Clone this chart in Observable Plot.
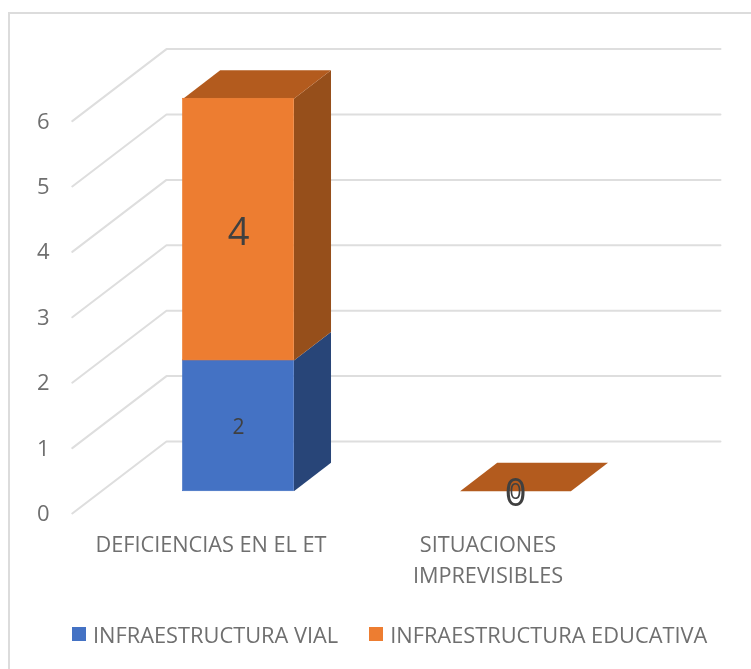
<!DOCTYPE html>
<html lang="es">
<head>
<meta charset="utf-8">
<script src="https://cdn.jsdelivr.net/npm/d3@7"></script>
<script src="https://cdn.jsdelivr.net/npm/@observablehq/plot@0.6"></script>
<style>
  html, body { margin: 0; padding: 0; background: #fff; overflow: hidden; }
  #frame { position: absolute; left: 8px; top: 12px; width: 743px; height: 657px; box-sizing: border-box;
           border-top: 2px solid #dcdcdc; border-left: 2px solid #dcdcdc; }
  #chart { position: absolute; left: 0; top: 0; filter: blur(0.4px); }
  #chart svg { display: block; background: transparent; }
  #legend { position: absolute; left: 72px; top: 620px; display: flex; font: 21.8px "Open Sans", sans-serif; color: #6f6f6f; filter: blur(0.4px); white-space: nowrap; }
  #legend .item { display: flex; align-items: center; height: 28px; }
  #legend .swatch { width: 14px; height: 14px; margin-right: 7px; }
  #legend .item + .item { margin-left: 31px; }
</style>
</head>
<body>
<div id="frame"></div>
<div id="chart"></div>
<div id="legend"></div>
<script>
const categories = ["DEFICIENCIAS EN EL ET", "SITUACIONES\nIMPREVISIBLES"];
const seriesNames = ["INFRAESTRUCTURA VIAL", "INFRAESTRUCTURA EDUCATIVA"];
const vial = [2, 0];
const educativa = [4, 0];
const yTicks = [0, 1, 2, 3, 4, 5, 6];

const frontColors = ["#4472C4", "#ED7D31"];
const sideColors = ["#284578", "#964F1B"];
const topColors = ["#2F5597", "#B35B1E"];
const labelSizes = [21, 38];
const labelShift = [1.5, 3];

// Bar and wall depth, in the units of the x and y scales
const barHalf = 0.2, barDepthX = 0.134, barDepthY = 0.435;
const wallFrontX = -0.6, wallBackX = -0.26, wallEndX = 1.74, wallFrontY = -0.341, wallBackY = 0.76;

const bars = [];
categories.forEach((c, i) => {
  let base = 0;
  [vial, educativa].forEach((s, k) => {
    bars.push({i, k, y1: base, y2: base + s[i], value: s[i]});
    base += s[i];
  });
});

const sidePts = bars.filter(b => b.value > 0).flatMap(b => [
  {id: b.i + "-" + b.k, k: b.k, x: b.i + barHalf, y: b.y1},
  {id: b.i + "-" + b.k, k: b.k, x: b.i + barHalf + barDepthX, y: b.y1 + barDepthY},
  {id: b.i + "-" + b.k, k: b.k, x: b.i + barHalf + barDepthX, y: b.y2 + barDepthY},
  {id: b.i + "-" + b.k, k: b.k, x: b.i + barHalf, y: b.y2}
]);
const tops = bars.filter(b => b.k === 1);
const topPts = tops.flatMap(b => [
  {id: b.i, x: b.i - barHalf, y: b.y2},
  {id: b.i, x: b.i + barHalf, y: b.y2},
  {id: b.i, x: b.i + barHalf + barDepthX, y: b.y2 + barDepthY},
  {id: b.i, x: b.i - barHalf + barDepthX, y: b.y2 + barDepthY}
]);
const gridPts = yTicks.flatMap(t => [
  {t, x: wallFrontX, y: t + wallFrontY},
  {t, x: wallBackX, y: t + wallBackY},
  {t, x: wallEndX, y: t + wallBackY}
]);

const textColor = "#6f6f6f";
const plot = Plot.plot({
  width: 751, height: 610,
  margin: 0,
  x: {type: "linear", domain: [0, 1], range: [238, 515], axis: null},
  y: {type: "linear", domain: [0, 6], range: [490.7, 98.3], axis: null},
  style: {fontFamily: "'Open Sans', sans-serif", background: "transparent", overflow: "visible"},
  marks: [
    Plot.line(gridPts, {x: "x", y: "y", z: "t", stroke: "#dedede", strokeWidth: 2, curve: "linear"}),
    Plot.text(yTicks, {x: () => wallFrontX, y: d => d + wallFrontY, text: d => String(d), dx: -29, dy: 0.5, fontSize: 22, fill: textColor}),
    // side faces
    Plot.line(sidePts, {x: "x", y: "y", z: "id", fill: d => sideColors[d.k], stroke: null}),
    // top faces
    Plot.line(topPts, {x: "x", y: "y", z: "id", fill: topColors[1], stroke: null}),
    // front faces
    Plot.rect(bars.filter(b => b.value > 0), {
      x1: d => d.i - barHalf, x2: d => d.i + barHalf, y1: "y1", y2: "y2",
      fill: d => frontColors[d.k], stroke: d => frontColors[d.k], strokeWidth: 0.7, inset: 0
    }),
    // value labels
    ...[0, 1].map(k => Plot.text(bars.filter(b => b.k === k), {
      x: "i", y: d => (d.y1 + d.y2) / 2, text: d => String(d.value),
      fontSize: labelSizes[k], dy: labelShift[k], fill: "#404040"
    })),
    // category labels
    Plot.text(categories, {
      x: (d, i) => i, y: () => 0, text: d => d, dx: -27.5, dy: 39,
      lineAnchor: "top", lineHeight: 1.43, fontSize: 21.7, fill: textColor
    })
  ]
});
document.getElementById("chart").appendChild(plot);

const legend = document.getElementById("legend");
seriesNames.forEach((name, k) => {
  const item = document.createElement("div");
  item.className = "item";
  const sw = document.createElement("span");
  sw.className = "swatch";
  sw.style.background = frontColors[k];
  const label = document.createElement("span");
  label.textContent = name;
  item.append(sw, label);
  legend.append(item);
});
</script>
</body>
</html>
